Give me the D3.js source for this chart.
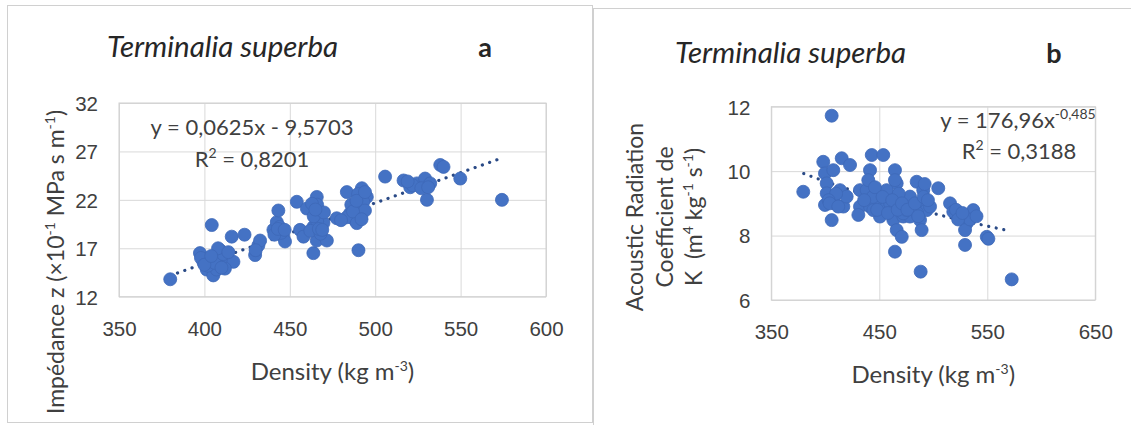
<!DOCTYPE html>
<html><head><meta charset="utf-8">
<script src="https://cdn.jsdelivr.net/npm/d3@7"></script>
<style>
html,body{margin:0;padding:0;background:#fff;}
svg{display:block;font-family:Lato,"Open Sans",sans-serif;}
.tick text{fill:#404040;font-size:20.5px;}
.tick line{stroke:#d9d9d9;stroke-width:1;}
</style></head>
<body>
<svg id="c" width="1131" height="425"></svg>
<script>
// ---------- DATA ----------
const titleText = "Terminalia superba";
const panelLetters = ["a", "b"];

// Panel a: density (kg m-3) vs impedance z (x10^-1 MPa s m-1)
const densityA = [380,397.4,399.4,401.4,405.2,404.3,409.2,409.2,413.1,417,407.2,403.3,416,423.5,429.7,431.6,432.6,440.4,442.4,443.3,446.2,447.2,454.1,456,458,463.8,465.8,463.8,467.7,463.8,465.8,471.7,469.7,477.5,483.4,485.3,491.2,492.2,490.2,488.2,460,495.1,491.2,483.4,489.2,505.8,516.6,520.5,524.4,529.2,532.2,530.3,538.1,540,549.8,574.2,
  398,402,406,411,412,408,444,445,466,466,462,468,486,490,493,494,480,522,527,430,410,464,470,
  400,404,414,441,443,447,463,465,467,469,487,489,492,494,519,531];
const impedanceA = [13.8,16.5,15.6,14.8,14.2,19.4,16.8,15.4,16.1,15.6,14.8,15.8,18.2,18.4,16.3,17.3,17.8,18.9,19.7,20.9,18.2,17.7,21.8,18.9,18.2,16.5,22.3,20.9,20.2,19.2,17.8,17.8,19.6,20.1,22.8,20.6,21.1,23.2,16.8,19.9,21.1,22.3,21.3,20.2,19.6,24.4,24.0,23.3,23.7,24.2,23.7,22.0,25.6,25.4,24.2,22.0,
  16.0,15.2,15.5,16.4,14.9,17.0,19.2,18.6,19.8,21.5,18.8,18.5,21.5,22.6,21.8,20.9,19.9,23.5,23.2,16.8,15.0,20.3,20.7,
  15.3,16.2,16.6,18.4,19.0,18.9,21.6,21.0,19.0,18.9,20.8,21.9,20.0,22.8,23.9,23.3];
const xTicksA = [350,400,450,500,550,600];
const yTicksA = [12,17,22,27,32];
const fitA = {slope: 0.0625, intercept: -9.5703, xFrom: 380, xTo: 574};

// Panel b: density (kg m-3) vs acoustic radiation coefficient K
const densityB = [379.6,398.1,399.7,401.3,401.3,399.7,407.4,413.6,415.2,422.9,416.7,405.9,409,405.9,432.1,432.1,438.3,441.4,443,453.7,439.8,441.4,450.6,456.8,463,464.5,466.1,463,469.2,472.2,466.1,470.8,464.5,481.5,484.6,490.7,490.7,487.7,489.2,493.9,504.6,515.5,518.5,524.7,530.9,537,529.4,529.4,549.5,551,488.3,572.6,419.8,450.6,478.4,456.8,478.4,430.6,444.5,497,472.2,464.5,
  410,444,446,460,468,475,485,492,521,534,403,
  404,412,436,448,453,458,462,467,471,476,483,486,491,495,523,527,540];
const coefB = [9.36,10.29,9.93,9.62,9.31,8.95,10.03,9.41,10.40,10.19,8.9,8.48,9.0,11.72,9.41,8.9,9.41,10.03,10.5,10.5,9.72,8.9,9.1,8.9,8.48,10.03,9.62,9.21,8.9,8.59,8.17,7.96,7.5,8.9,9.67,9.41,9.0,8.48,8.17,8.79,9.47,9.0,8.74,8.59,8.38,8.79,8.17,7.71,7.96,7.9,6.88,6.64,9.21,8.59,8.59,9.41,9.21,8.64,8.79,8.9,8.69,9.72,
  9.3,9.2,9.5,9.0,9.3,8.8,8.7,9.6,8.8,8.5,9.1,
  9.0,8.9,9.1,8.8,9.2,8.7,9.1,8.8,9.0,8.8,9.0,8.6,9.2,9.1,8.5,8.7,8.6];
const xTicksB = [350,450,550,650];
const yTicksB = [6,8,10,12];
const fitB = {a: 176.96, b: -0.485, xFrom: 380, xTo: 572};

// ---------- DRAW ----------
const svg = d3.select("#c");
const blue = "#4472C4", blueEdge = "#3d68b8", trendCol = "#2a4a86";
const txt = "#404040";

// panel frames
svg.append("rect").attr("x",7.5).attr("y",5.5).attr("width",585).attr("height",417)
  .attr("fill","#fff").attr("stroke","#d0d0d0");
svg.append("rect").attr("x",593.5).attr("y",8.5).attr("width",600).attr("height",500)
  .attr("fill","#fff").attr("stroke","#d0d0d0");

function supText(sel, parts){
  // parts: array of [text, isSup]
  parts.forEach(([s,isSup],i)=>{
    const prevSup = i>0 && parts[i-1][1];
    const t = sel.append("tspan").text(s);
    if (isSup) t.attr("font-size",14).attr("dy",-9);
    else if (prevSup) t.attr("dy",9);
  });
}

function panel(cfg){
  const g = svg.append("g");
  const x = d3.scaleLinear().domain(cfg.xDomain).range(cfg.xRange);
  const y = d3.scaleLinear().domain(cfg.yDomain).range(cfg.yRange);
  const [x0,x1] = cfg.xRange, [y0,y1] = cfg.yRange; // y0 bottom
  g.append("g").attr("transform",`translate(0,${y0})`)
    .call(d3.axisBottom(x).tickValues(cfg.xTicks).tickSizeInner(-(y0-y1)).tickSizeOuter(0).tickPadding(24.5).tickFormat(d3.format("d")))
    .call(s=>s.select(".domain").remove());
  g.append("g").attr("transform",`translate(${x0},0)`)
    .call(d3.axisLeft(y).tickValues(cfg.yTicks).tickSizeInner(-(x1-x0)).tickSizeOuter(0).tickPadding(21).tickFormat(d3.format("d")))
    .call(s=>s.select(".domain").remove())
    .call(s=>s.selectAll(".tick text").attr("dy","0.36em"));
  g.append("rect").attr("x",x0).attr("y",y1).attr("width",x1-x0).attr("height",y0-y1)
    .attr("fill","none").attr("stroke","#d0d0d0");
  const xs = d3.range(cfg.fit.xFrom, cfg.fit.xTo+0.001, (cfg.fit.xTo-cfg.fit.xFrom)/60);
  g.append("path").datum(xs)
    .attr("d", d3.line().x(d=>x(d)).y(d=>y(cfg.fitFn(d))))
    .attr("fill","none").attr("stroke",trendCol).attr("stroke-width",3.2)
    .attr("stroke-linecap","round").attr("stroke-dasharray","0.1 7.6");
  g.append("g").selectAll("circle").data(cfg.xs.map((d,i)=>[d,cfg.ys[i]]))
    .join("circle").attr("cx",d=>x(d[0])).attr("cy",d=>y(d[1])).attr("r",6.5)
    .attr("fill",blue).attr("stroke",blueEdge).attr("stroke-width",0.8);
  g.append("text").attr("x",cfg.titleX).attr("y",cfg.titleY).attr("font-style","italic")
    .attr("font-size",29.5).attr("fill","#262626").text(titleText);
  g.append("text").attr("x",cfg.letterX).attr("y",cfg.titleY).attr("font-weight","bold")
    .attr("font-size",27).attr("fill","#262626").attr("text-anchor","middle").text(cfg.letter);
  const xt = g.append("text").attr("x",(x0+x1)/2).attr("y",cfg.xTitleY).attr("text-anchor","middle")
    .attr("font-size",24).attr("fill",txt);
  supText(xt, [["Density (kg m",false],["-3",true],[")",false]]);
  return {g,x,y};
}

// Panel a
const A = panel({xDomain:[350,600], xRange:[119,546], yDomain:[12,32], yRange:[296.7,103],
  xTicks:xTicksA, yTicks:yTicksA, fit:fitA, fitFn:d=>fitA.slope*d+fitA.intercept,
  xs:densityA, ys:impedanceA, titleX:107, titleY:57, letterX:485, letter:panelLetters[0], xTitleY:380});
{
  A.g.append("text").attr("x",252).attr("y",135).attr("text-anchor","middle").attr("font-size",22).attr("fill",txt)
    .text("y = 0,0625x - 9,5703");
  const t2 = A.g.append("text").attr("x",252).attr("y",166.7).attr("text-anchor","middle").attr("font-size",22).attr("fill",txt);
  supText(t2, [["R",false],["2",true],[" = 0,8201",false]]);
  const yl = A.g.append("text").attr("transform","translate(64,262) rotate(-90)").attr("text-anchor","middle")
    .attr("font-size",23).attr("fill",txt);
  supText(yl, [["Impédance z (×10",false],["-1",true],[" MPa s m",false],["-1",true],[")",false]]);
}

// Panel b
const B = panel({xDomain:[350,650], xRange:[771.3,1095.3], yDomain:[6,12], yRange:[300,106.7],
  xTicks:xTicksB, yTicks:yTicksB, fit:fitB, fitFn:d=>fitB.a*Math.pow(d,fitB.b),
  xs:densityB, ys:coefB, titleX:675, titleY:63, letterX:1054, letter:panelLetters[1], xTitleY:383});
{
  const t1 = B.g.append("text").attr("x",1018).attr("y",128.3).attr("text-anchor","middle").attr("font-size",22).attr("fill",txt);
  supText(t1, [["y = 176,96x",false],["-0,485",true]]);
  const t2 = B.g.append("text").attr("x",1019).attr("y",159).attr("text-anchor","middle").attr("font-size",22).attr("fill",txt);
  supText(t2, [["R",false],["2",true],[" = 0,3188",false]]);
  [["Acoustic Radiation",643],["Coefficient de",673]].forEach(([s,bx])=>{
    B.g.append("text").attr("transform",`translate(${bx},217) rotate(-90)`).attr("text-anchor","middle")
      .attr("font-size",23).attr("fill",txt).text(s);
  });
  const l3 = B.g.append("text").attr("transform","translate(702,217) rotate(-90)").attr("text-anchor","middle")
    .attr("font-size",23).attr("fill",txt);
  supText(l3, [["K\u00a0\u00a0(m",false],["4",true],[" kg",false],["-1",true],[" s",false],["-1",true],[")",false]]);
}
</script>
</body></html>
